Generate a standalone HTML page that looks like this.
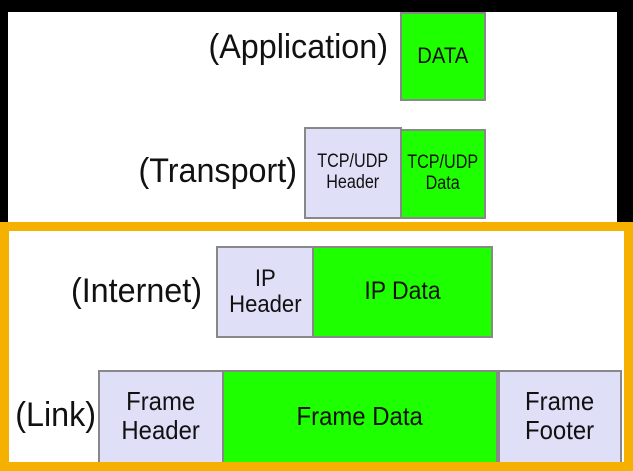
<!DOCTYPE html>
<html><head><style>
body{margin:0;width:633px;height:471px;background:#000;position:relative;overflow:hidden;font-family:"Liberation Sans",sans-serif}
.w{position:absolute;left:8px;top:12px;width:609px;height:459px;background:#fff}
.o{position:absolute;left:0;top:222px;width:615px;height:231px;border:9px solid #f5b000;background:#fff}
.b{position:absolute;box-sizing:border-box;border:2px solid #888;display:flex;align-items:center;justify-content:center;text-align:center;color:#111;line-height:1.1}
.b span{display:inline-block;transform:scaleX(0.92)}
.g{background:#1eff00}.p{background:#dfdff8}
.l{position:absolute;font-size:34px;color:#111;text-align:right;transform:scaleX(0.95);transform-origin:right}
</style></head><body>
<div class="w"></div>
<div class="o"></div>
<div class="l" style="left:100px;top:28px;width:288px">(Application)</div>
<div class="b g" style="left:400px;top:12px;width:86px;height:89px;font-size:22px"><span>DATA</span></div>
<div class="l" style="left:60px;top:152px;width:237px">(Transport)</div>
<div class="b p" style="left:304px;top:127px;width:98px;height:92px;font-size:19px"><span style="transform:scaleX(0.85)">TCP/UDP<br>Header</span></div>
<div class="b g" style="left:400px;top:129px;width:86px;height:90px;font-size:19px"><span style="transform:scaleX(0.85);white-space:nowrap">TCP/UDP<br>Data</span></div>
<div class="l" style="left:20px;top:272px;width:182px">(Internet)</div>
<div class="b p" style="left:216px;top:246px;width:98px;height:92px;font-size:24px"><span>IP<br>Header</span></div>
<div class="b g" style="left:312px;top:246px;width:181px;height:92px;font-size:25px"><span>IP Data</span></div>
<div class="l" style="left:0px;top:396px;width:96px">(Link)</div>
<div class="b p" style="left:98px;top:370px;width:126px;height:100px;font-size:26px;padding-bottom:8px"><span>Frame<br>Header</span></div>
<div class="b g" style="left:222px;top:370px;width:276px;height:100px;font-size:26px;padding-bottom:8px"><span>Frame Data</span></div>
<div class="b p" style="left:498px;top:370px;width:124px;height:100px;font-size:26px;padding-bottom:8px"><span>Frame<br>Footer</span></div>
<div style="position:absolute;left:0;top:462px;width:633px;height:9px;background:#f5b000"></div>
</body></html>
